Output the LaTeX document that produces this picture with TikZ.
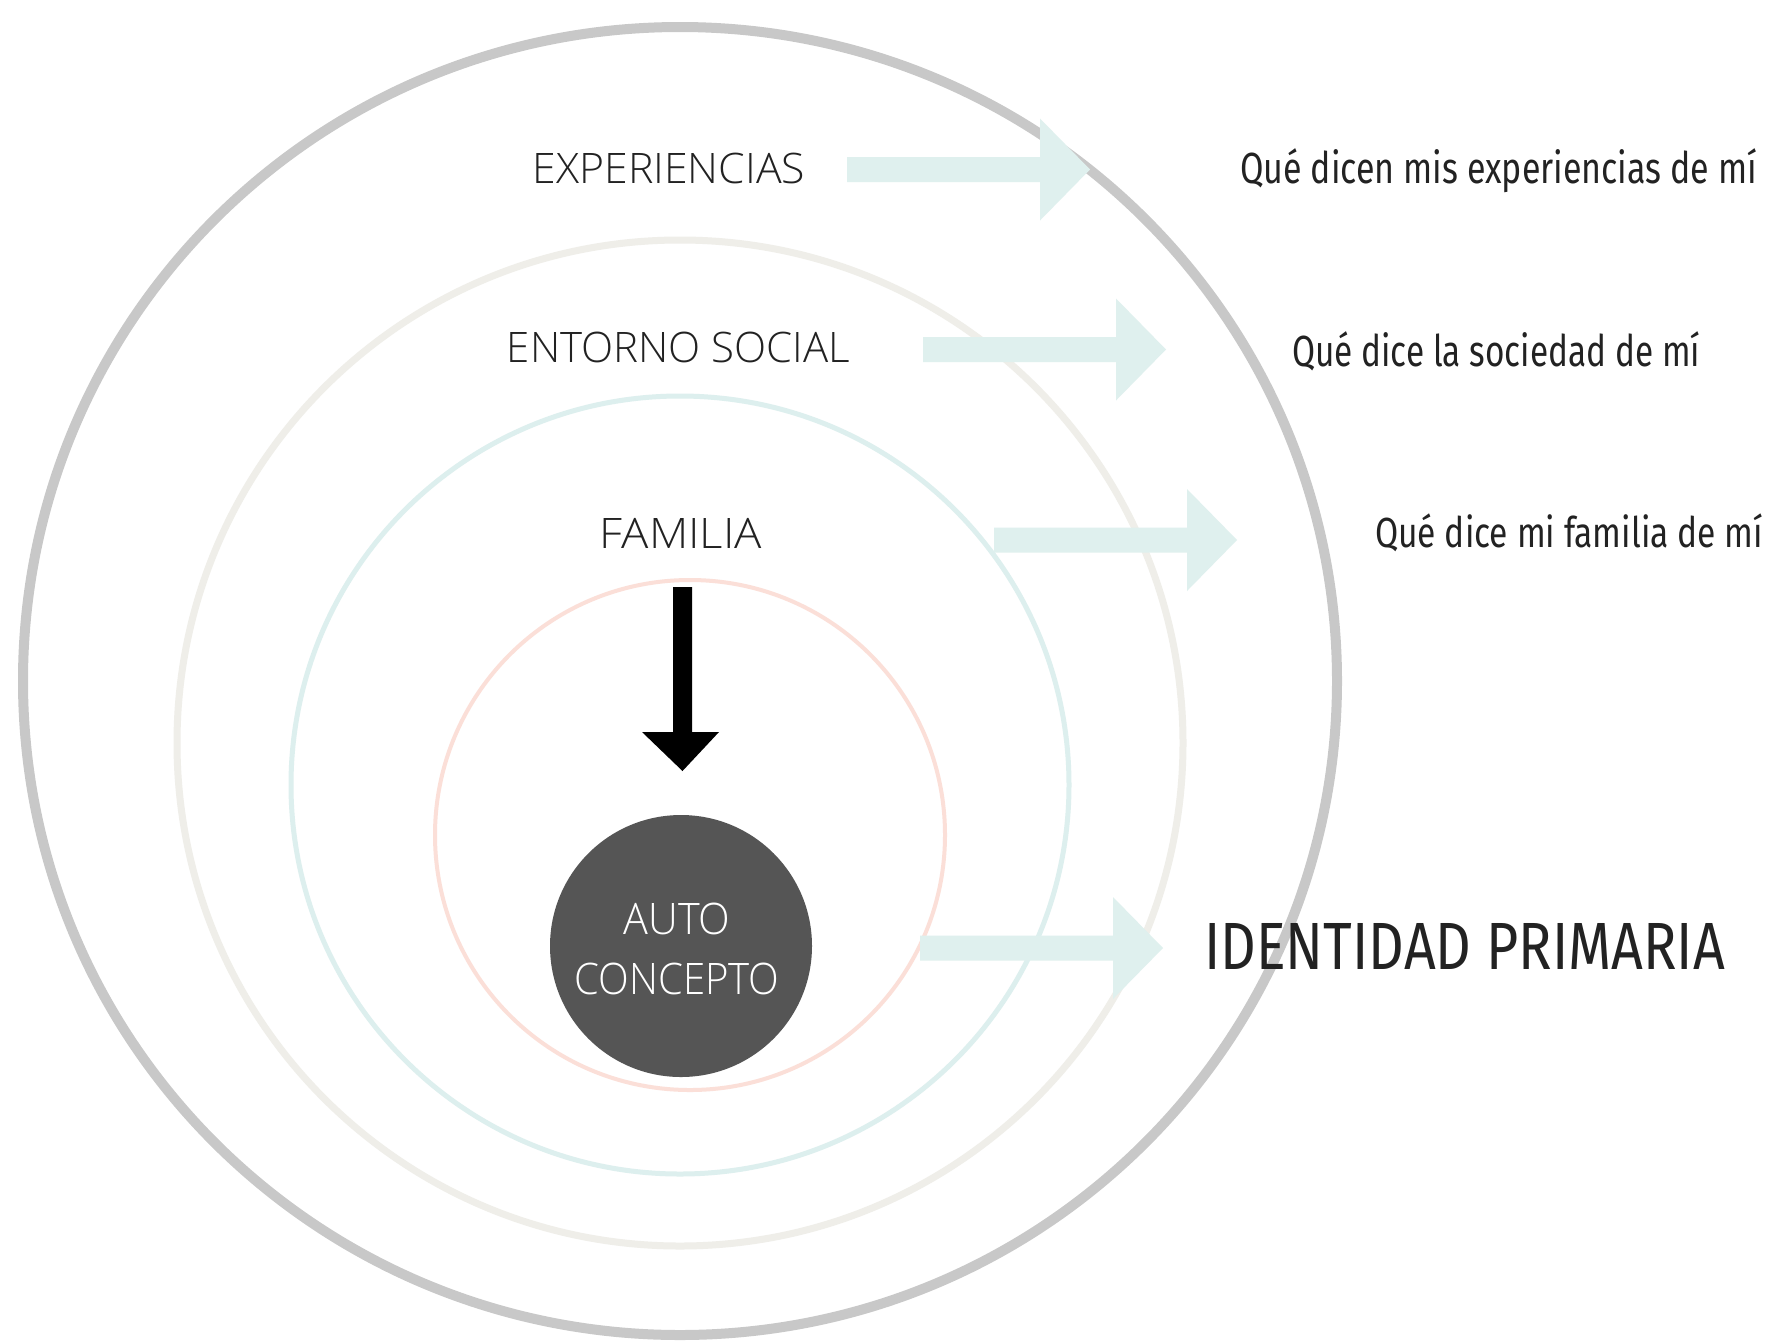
\documentclass[tikz,border=0pt]{standalone}
\usepackage{fontspec}
\setmainfont{Open Sans}
\newfontfamily\labelfont{Open Sans Light}
\IfFontExistsTF{Fira Sans Book}{\newfontfamily\dosisfont{Fira Sans Book}}{\newfontfamily\dosisfont{Fira Sans}}
\definecolor{ringgray}{HTML}{C8C8C8}
\definecolor{ringbeige}{HTML}{EFEEE9}
\definecolor{ringblue}{HTML}{DDEFEE}
\definecolor{ringpink}{HTML}{FBDFD8}
\definecolor{arrowteal}{HTML}{DFF0EE}
\definecolor{coredark}{HTML}{555555}
\definecolor{ink}{HTML}{222222}
\newcommand{\fitbox}[4]{\resizebox{#1}{#2}{#3\rule{0pt}{\fontcharht\font`X}\smash{#4}}}
\tikzset{
  ring/.style={draw=#1},
  txt/.style={inner sep=0pt, outer sep=0pt, text=ink},
  pics/tealarrow/.style={code={
    \fill[arrowteal] (0,-12.5) -- (193,-12.5) -- (193,-51) -- (243,0) -- (193,51) -- (193,12.5) -- (0,12.5) -- cycle;}},
}
\begin{document}
\begin{tikzpicture}[x=1pt,y=-1pt]
\useasboundingbox (0,0) rectangle (1782,1342);
\fill[white] (0,0) rectangle (1782,1342);
% rings
\draw[ring=ringgray, line width=10pt] (680,681) ellipse[x radius=657pt, y radius=654pt];
\draw[ring=ringbeige, line width=7pt] (680,743) circle[radius=503pt];
\draw[ring=ringblue, line width=5pt] (680,785) circle[radius=389pt];
\draw[ring=ringpink, line width=4pt] (690,835) circle[radius=255pt];
% teal arrows
\pic at (847,169.5) {tealarrow};
\pic at (923,349.5) {tealarrow};
\pic at (994,540) {tealarrow};
\pic at (920,948) {tealarrow};
% core
\node[circle, fill=coredark, minimum size=262pt, inner sep=0pt] (core) at (681,946) {};
% black arrow
\fill[black] (673,587) -- (692,587) -- (692,732) -- (719,732) -- (682.5,771) -- (642,732) -- (673,732) -- cycle;
% left labels
\node[txt, anchor=south] (exp) at (669,183) {\fitbox{272pt}{30pt}{\labelfont}{EXPERIENCIAS}};
\node[txt, anchor=south] (ent) at (678.5,362) {\fitbox{343pt}{30pt}{\labelfont}{ENTORNO SOCIAL}};
\node[txt, anchor=south] (fam) at (681,548) {\fitbox{162pt}{30pt}{\labelfont}{FAMILIA}};
\node[txt, anchor=south, text=white] (auto) at (677,934) {\fitbox{107pt}{31pt}{\labelfont}{AUTO}};
\node[txt, anchor=south, text=white] (conc) at (677,994) {\fitbox{205pt}{31pt}{\labelfont}{CONCEPTO}};
% right texts
\node[txt, anchor=south west] (r1) at (1240,183) {\fitbox{517pt}{30pt}{\dosisfont}{Qué dicen mis experiencias de mí}};
\node[txt, anchor=south west] (r2) at (1292,366) {\fitbox{408pt}{30pt}{\dosisfont}{Qué dice la sociedad de mí}};
\node[txt, anchor=south west] (r3) at (1375,547) {\fitbox{388pt}{29pt}{\dosisfont}{Qué dice mi familia de mí}};
\node[txt, anchor=south west] (r4) at (1204,969) {\fitbox{521pt}{46pt}{\dosisfont}{IDENTIDAD PRIMARIA}};
\end{tikzpicture}
\end{document}
